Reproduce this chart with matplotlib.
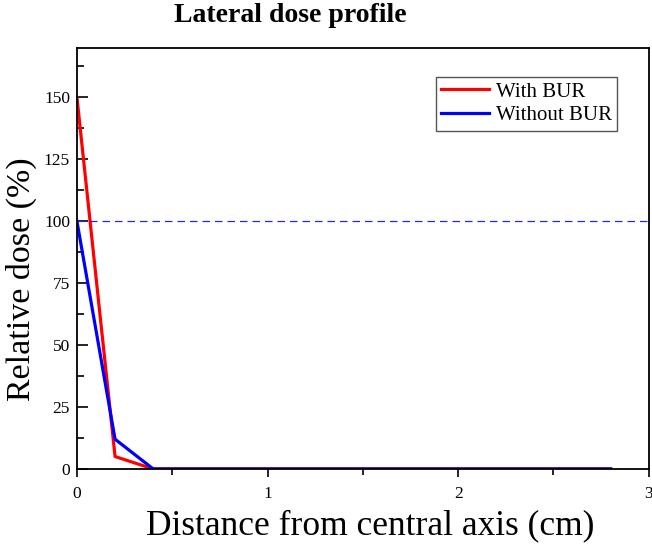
import numpy as np
import matplotlib.pyplot as plt
from matplotlib.ticker import MultipleLocator

plt.rcParams['font.family'] = ['Liberation Serif', 'DejaVu Serif']

# distance from central axis (cm)
distance = [0.0, 0.2, 0.4, 0.6, 0.8, 1.0, 1.2, 1.4, 1.6, 1.8, 2.0, 2.2, 2.4, 2.6, 2.8]
with_bur = [150, 5, 0, 0, 0, 0, 0, 0, 0, 0, 0, 0, 0, 0, 0]
without_bur = [100, 12, 0, 0, 0, 0, 0, 0, 0, 0, 0, 0, 0, 0, 0]
reference_level = 100

fig = plt.figure(figsize=(6.52, 5.44), dpi=100)
ax = fig.add_axes([0.118, 0.138, 0.877, 0.774])

ax.plot(distance, with_bur, color='#ff0000', lw=2.3, label='With BUR')
ax.plot(distance, without_bur, color='#0000ff', lw=2.3, label='Without BUR')
ax.axhline(reference_level, color='#2a2ad0', lw=0.9, ls=(0, (6, 4)))

ax.set_xlim(0, 3)
ax.set_ylim(0, 170)
ax.xaxis.set_major_locator(MultipleLocator(1))
ax.xaxis.set_minor_locator(MultipleLocator(0.5))
ax.yaxis.set_major_locator(MultipleLocator(25))
ax.yaxis.set_minor_locator(MultipleLocator(12.5))
ax.tick_params(axis='x', which='both', direction='out', labelsize=12.5, pad=6)
ax.tick_params(axis='x', which='major', length=6, width=1.2)
ax.tick_params(axis='x', which='minor', length=4, width=1.2)
ax.tick_params(axis='y', which='both', direction='in', labelsize=12.5, pad=5)
ax.tick_params(axis='y', which='major', length=8, width=1.2)
ax.tick_params(axis='y', which='minor', length=5, width=1.2)
for s in ax.spines.values():
    s.set_linewidth(1.3)

ax.set_xlabel('Distance from central axis (cm)', fontsize=25.5)
ax.xaxis.set_label_coords(0.512, -0.095)
ax.set_ylabel('Relative dose (%)', fontsize=24.5)
ax.yaxis.set_label_coords(-0.07, 0.451)
fig.text(0.445, 0.972, 'Lateral dose profile', fontsize=20, fontweight='bold',
         ha='center', va='center')

leg = ax.legend(loc='upper right', bbox_to_anchor=(0.944, 0.931), fontsize=15,
                fancybox=False, edgecolor='#555555', framealpha=1,
                handlelength=2.3, borderpad=0.25, labelspacing=0.2,
                handletextpad=0.3, borderaxespad=0)
leg.get_frame().set_linewidth(1.0)

plt.savefig('out.png', dpi=100)
